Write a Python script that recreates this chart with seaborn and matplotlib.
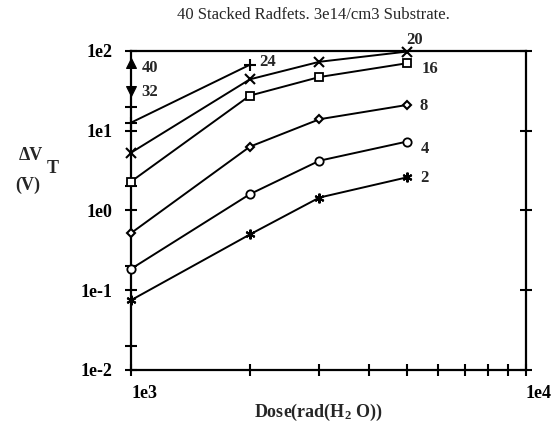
import numpy as np
import pandas as pd
import matplotlib
matplotlib.use('Agg')
import matplotlib.pyplot as plt
import seaborn as sns
from matplotlib.ticker import LogLocator, FixedLocator, FuncFormatter, NullFormatter

# data
dose = [1000, 2000, 3000, 5000]
dv_2 = [0.075, 0.5, 1.45, 2.6]
dv_4 = [0.185, 1.6, 4.2, 7.3]
dv_8 = [0.52, 6.3, 13.9, 21.0]
dv_16 = [2.3, 27.5, 47.0, 70.0]
dv_20 = [5.3, 44.0, 73.0, 98.0]
dose_24 = [1000, 2000]
dv_24 = [12.6, 67.0]
dose_32 = [1000]
dv_32 = [31.0]
dose_40 = [1000]
dv_40 = [70.0]

sns.set_style('white')
plt.rcParams['font.family'] = ['Liberation Serif', 'DejaVu Serif']
plt.rcParams['mathtext.fontset'] = 'custom'
plt.rcParams['mathtext.rm'] = 'Liberation Serif:bold'
plt.rcParams['mathtext.bf'] = 'Liberation Serif:bold'
plt.rcParams['mathtext.default'] = 'bf'

fig = plt.figure(figsize=(5.6, 4.33), dpi=100)
ax = fig.add_axes([0.234, 0.1455, 0.705, 0.737])

series = [
    ('2', dose, dv_2, dict(marker=(6, 2, 0), ms=7, mew=1.5)),
    ('4', dose, dv_4, dict(marker='o', ms=6, mfc='white', mew=1.3)),
    ('8', dose, dv_8, dict(marker='D', ms=4.5, mfc='white', mew=1.5)),
    ('16', dose, dv_16, dict(marker='s', ms=6, mfc='white', mew=1.3)),
    ('20', dose, dv_20, dict(marker='x', ms=7, mew=1.5)),
    ('24', dose_24, dv_24, dict(marker='+', ms=8, mew=1.5)),
    ('32', dose_32, dv_32, dict(marker='v', ms=7)),
    ('40', dose_40, dv_40, dict(marker='^', ms=7)),
]
for name, xs, ys, kw in series:
    df = pd.DataFrame({'dose': xs, 'dv': ys})
    sns.lineplot(data=df, x='dose', y='dv', ax=ax, color='black', lw=1.4,
                 mec='black', clip_on=False, zorder=3, **kw)

# curve labels
label_offsets = {'2': (17, -1), '4': (18, -7), '8': (17, -1), '16': (23, -6),
                 '20': (8, 12), '24': (18, 3), '32': (19, -1), '40': (19, -5)}
for name, xs, ys, kw in series:
    dx, dy = label_offsets[name]
    ax.annotate(name, (xs[-1], ys[-1]), xytext=(dx, dy), textcoords='offset pixels',
                ha='center', va='center', fontsize=12, fontweight='bold')

ax.set_xscale('log')
ax.set_yscale('log')
ax.set_xlim(1e3, 1e4)
ax.set_ylim(1e-2, 1e2)

for sp in ax.spines.values():
    sp.set_linewidth(1.6)
    sp.set_color('black')

ax.xaxis.set_major_locator(FixedLocator([1e3, 1e4]))
ax.xaxis.set_minor_locator(LogLocator(base=10, subs=np.arange(2, 10)))
ax.yaxis.set_major_locator(FixedLocator([1e-2, 1e-1, 1e0, 1e1, 1e2]))
ax.yaxis.set_minor_locator(LogLocator(base=10, subs=[2]))
fmt = FuncFormatter(lambda v, p: '1e%d' % int(round(np.log10(v))))
ax.xaxis.set_major_formatter(fmt)
ax.yaxis.set_major_formatter(fmt)
ax.xaxis.set_minor_formatter(NullFormatter())
ax.yaxis.set_minor_formatter(NullFormatter())

ax.tick_params(which='both', direction='inout', width=1.5, colors='black',
               labelsize=13, bottom=True, left=True, right=True, top=False)
ax.tick_params(which='major', length=9)
ax.tick_params(which='minor', length=8)
ax.tick_params(axis='y', which='minor', right=False)
ax.tick_params(axis='x', pad=6)
ax.tick_params(axis='y', pad=9)
for t in ax.get_xticklabels() + ax.get_yticklabels():
    t.set_fontweight('bold')
for t in ax.get_xticklabels():
    t.set_ha('left')

ax.set_xlabel('')
ax.set_ylabel('')

fig.text(0.56, 0.965, '40 Stacked Radfets. 3e14/cm3 Substrate.', ha='center', va='center',
         fontsize=12)
fig.text(0.568, 0.048, r'Dose(rad(H$_{2}$ O))', ha='center', va='center', fontsize=13,
         fontweight='bold')
fig.text(0.033, 0.642, '\u0394V', ha='left', va='center', fontsize=13, fontweight='bold')
fig.text(0.084, 0.61, 'T', ha='left', va='center', fontsize=13, fontweight='bold')
fig.text(0.027, 0.573, '(V)', ha='left', va='center', fontsize=13, fontweight='bold')

fig.savefig('out.png', dpi=100)
